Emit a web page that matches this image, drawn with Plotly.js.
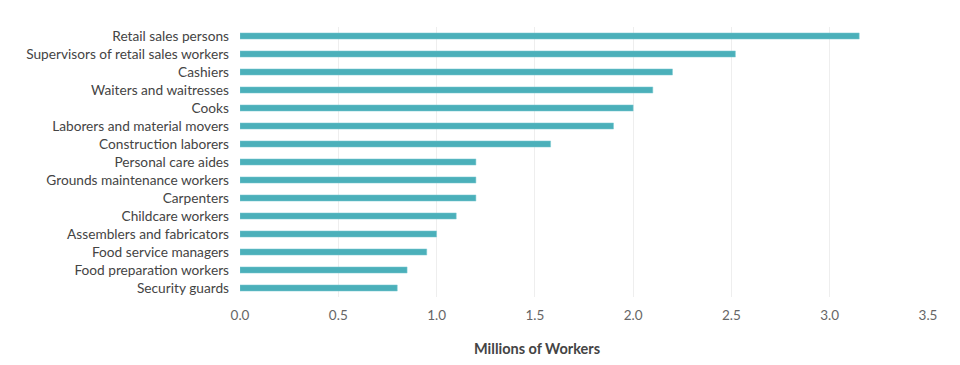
<!DOCTYPE html>
<html>
<head>
<meta charset="utf-8">
<script src="https://cdn.plot.ly/plotly-3.0.1.min.js"></script>
<style>html,body{margin:0;padding:0;background:#fff;}#chart{width:960px;height:365px;}</style>
</head>
<body>
<div id="chart"></div>
<script>
const occupations = [
  "Retail sales persons",
  "Supervisors of retail sales workers",
  "Cashiers",
  "Waiters and waitresses",
  "Cooks",
  "Laborers and material movers",
  "Construction laborers",
  "Personal care aides",
  "Grounds maintenance workers",
  "Carpenters",
  "Childcare workers",
  "Assemblers and fabricators",
  "Food service managers",
  "Food preparation workers",
  "Security guards"
];
const workers = [3.15, 2.52, 2.20, 2.10, 2.00, 1.90, 1.58, 1.20, 1.20, 1.20, 1.10, 1.00, 0.95, 0.85, 0.80];
const xTicks = [0, 0.5, 1, 1.5, 2, 2.5, 3, 3.5];
const xTickLabels = ["0.0", "0.5", "1.0", "1.5", "2.0", "2.5", "3.0", "3.5"];
const xTitle = "Millions of Workers";

const trace = {
  type: "bar",
  orientation: "h",
  y: occupations,
  x: workers,
  marker: {color: "#4bb0ba", line: {color: "#7ccbd2", width: 0.5}},
  hoverinfo: "x+y"
};

const layout = {
  width: 960,
  height: 365,
  margin: {l: 240, r: 32, t: 27, b: 68},
  paper_bgcolor: "#fff",
  plot_bgcolor: "#fff",
  font: {family: "Lato, 'Noto Sans', sans-serif", size: 13.7, color: "#444"},
  bargap: 0.66,
  showlegend: false,
  xaxis: {
    range: [0, 3.5],
    tickvals: xTicks,
    ticktext: xTickLabels,
    showgrid: true,
    gridcolor: "#eeeeee",
    gridwidth: 1,
    zeroline: false,
    showline: false,
    ticks: "",
    ticklabelstandoff: 8,
    tickfont: {size: 13.5, color: "#666"},
    fixedrange: true
  },
  yaxis: {
    autorange: "reversed",
    showgrid: false,
    zeroline: false,
    ticks: "",
    ticklabelstandoff: 10,
    tickfont: {size: 13.7, color: "#444"},
    fixedrange: true
  },
  annotations: [{
    text: "<b>" + xTitle + "</b>",
    xref: "paper", yref: "paper",
    x: 0.432, y: 0, yshift: -51,
    xanchor: "center", yanchor: "middle",
    showarrow: false,
    font: {size: 14.5, color: "#444"}
  }]
};

Plotly.newPlot("chart", [trace], layout, {displayModeBar: false, staticPlot: true});
</script>
</body>
</html>
